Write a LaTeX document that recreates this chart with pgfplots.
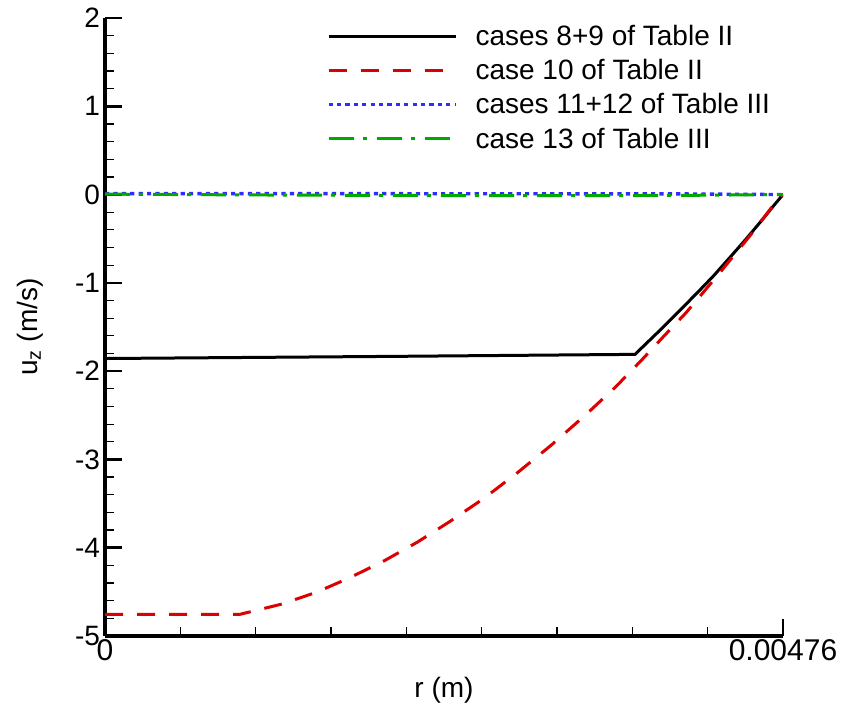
\documentclass[border=0pt]{standalone}
\usepackage{pgfplots}
\pgfplotsset{compat=1.18}
\usepackage{fontspec}
\setmainfont{Liberation Sans}

\definecolor{cRed}{RGB}{220,0,0}
\definecolor{cBlue}{RGB}{45,45,255}
\definecolor{cGreen}{RGB}{0,168,0}

\begin{document}
\begin{tikzpicture}
\useasboundingbox (0,0) rectangle (842bp,714bp);
\begin{axis}[
  at={(105bp,78bp)}, anchor=south west,
  scale only axis, width=678bp, height=618bp,
  xmin=0, xmax=0.00476, ymin=-5, ymax=2,
  axis x line*=bottom, axis y line*=left,
  axis line style={-, line width=3bp},
  tick pos=left, tick align=inside,
  scaled x ticks=false,
  xtick={0,0.00476}, xticklabels={0,0.00476},
  minor xtick={0.000528889,0.001057778,0.001586667,0.002115556,0.002644444,0.003173333,0.003702222,0.004231111},
  ytick={-5,-4,-3,-2,-1,0,1,2},
  yticklabels={-5,-4,-3,-2,-1,0,1,2},
  minor y tick num=4,
  major tick length=17bp, minor tick length=9bp,
  major tick style={line width=2.5bp, black},
  minor tick style={line width=1.2bp, black},
  xticklabel style={font=\fontsize{30bp}{34bp}\selectfont},
  yticklabel style={font=\fontsize{28bp}{32bp}\selectfont, xshift=-1.5bp},
  xlabel={r (m)},
  ylabel={u\textsubscript{z} (m/s)},
  label style={font=\fontsize{28bp}{32bp}\selectfont},
  xlabel style={at={(axis description cs:0.5,-0.0874)}, anchor=center},
  ylabel style={at={(axis description cs:-0.1106,0.5)}, anchor=center},
  legend style={draw=none, fill=none, at={(axis description cs:0.327,0.992)}, anchor=north west,
    font=\fontsize{28bp}{32bp}\selectfont, row sep=8.5bp, inner sep=0pt},
  legend cell align=left,
  legend image code/.code={\draw[#1] (0bp,0bp) -- (127bp,0bp);
    \path[draw=none, fill=none] (0bp,0bp) -- (145bp,0bp);},
]
% cases 8+9, Table II
\addplot[black, line width=3bp] table {
x y
0        -1.857
0.001    -1.845
0.002    -1.833
0.003721 -1.810
0.00392  -1.500
0.004037 -1.310
0.004154 -1.119
0.004271 -0.923
0.004388 -0.711
0.004505 -0.496
0.004622 -0.270
0.004700 -0.115
0.00476   0
};
\addlegendentry{cases 8+9 of Table II}
% case 10, Table II
\addplot[cRed, line width=3bp, dash pattern=on 18bp off 14bp] table {
x y
0        -4.754
0.000949 -4.754
0.001242 -4.638
0.001484 -4.505
0.001718 -4.340
0.001957 -4.151
0.002191 -3.939
0.002426 -3.698
0.002660 -3.441
0.002899 -3.146
0.003134 -2.837
0.003375 -2.494
0.003586 -2.177
0.003768 -1.874
0.003920 -1.610
0.004079 -1.339
0.004313 -0.892
0.004551 -0.421
0.004692 -0.119
0.00476   0
};
\addlegendentry{case 10 of Table II}
% cases 11+12, Table III
\addplot[cBlue, line width=3.4bp, dash pattern=on 4.2bp off 4.2bp] table {
x y
0       0.010
0.002   0.010
0.004   0.008
0.00476 0
};
\addlegendentry{cases 11+12 of Table III}
% case 13, Table III
\addplot[cGreen, line width=3bp, dash pattern=on 25bp off 9bp on 4bp off 10bp] table {
x y
0       0.005
0.001  -0.004
0.002  -0.010
0.003  -0.012
0.004  -0.010
0.00476 0
};
\addlegendentry{case 13 of Table III}
\end{axis}
\end{tikzpicture}
\end{document}
